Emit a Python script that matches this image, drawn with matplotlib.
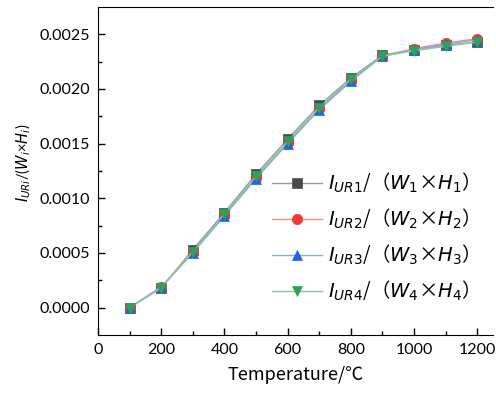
# Imports
import numpy as np
import matplotlib
matplotlib.use("Agg")
import matplotlib.pyplot as plt

# Chart data
temperature = [100, 200, 300, 400, 500, 600, 700, 800, 900, 1000, 1100, 1200]
ratio_1 = [0.0, 0.00018, 0.00053, 0.00087, 0.00122, 0.00154, 0.00185, 0.00210, 0.00231, 0.00236, 0.00240, 0.00243]
ratio_2 = [0.0, 0.00019, 0.00051, 0.00085, 0.00119, 0.00151, 0.00182, 0.00208, 0.00230, 0.00237, 0.00242, 0.00246]
ratio_3 = [0.0, 0.00019, 0.00050, 0.00084, 0.00118, 0.00150, 0.00181, 0.00207, 0.00230, 0.00236, 0.00241, 0.00245]
ratio_4 = [0.0, 0.00018, 0.00051, 0.00086, 0.00120, 0.00152, 0.00183, 0.00209, 0.00230, 0.00235, 0.00239, 0.00243]
labels = [r"$I_{UR1}$/（$W_1$×$H_1$）", r"$I_{UR2}$/（$W_2$×$H_2$）",
          r"$I_{UR3}$/（$W_3$×$H_3$）", r"$I_{UR4}$/（$W_4$×$H_4$）"]

# Styles
markers = ["s", "o", "^", "v"]
marker_colors = ["#4a4a4a", "#f03a3a", "#1f66dd", "#2aa35c"]
line_colors = ["#9a9a9a", "#ee8a8a", "#8aaed8", "#86c9a0"]

plt.rcParams['font.family'] = ['Lato', 'DejaVu Sans']
plt.rcParams['mathtext.fontset'] = 'dejavusans'
cjk = ['Noto Sans CJK SC', 'DejaVu Sans']

fig = plt.figure(figsize=(4.96, 3.96), dpi=100)
ax = fig.add_axes([98/496, 1-335/396, (493-98)/496, (335-7)/396])

series = [ratio_1, ratio_2, ratio_3, ratio_4]
for i in range(4):
    ax.plot(temperature, series[i], color=line_colors[i], lw=1.0,
            marker=markers[i], markersize=7.5, markerfacecolor=marker_colors[i],
            markeredgecolor=marker_colors[i], markeredgewidth=0.5,
            label=labels[i])

# Axes setup
ax.set_xlim(0, 1250)
ax.set_ylim(-0.00025, 0.00275)
ax.set_xticks([0, 200, 400, 600, 800, 1000, 1200])
ax.set_xticks(np.arange(100, 1250, 200), minor=True)
ax.set_yticks([0.0, 0.0005, 0.0010, 0.0015, 0.0020, 0.0025])
ax.set_yticks(np.arange(0.00025, 0.0027, 0.0005), minor=True)
ax.yaxis.set_major_formatter(matplotlib.ticker.FormatStrFormatter('%.4f'))
ax.tick_params(which='both', direction='in', labelsize=11.5, width=1, pad=6)
ax.tick_params(which='major', length=5)
ax.tick_params(which='minor', length=3)
ax.spines['right'].set_visible(False)

ax.set_xlabel("Temperature/℃", family=cjk, fontsize=13, labelpad=6)
ax.set_ylabel(r"$I_{URi}$/($W_i$×$H_i$)", fontsize=10.5, labelpad=2)
ax.yaxis.set_label_coords(-0.165, 0.524)

leg = ax.legend(loc='upper left', bbox_to_anchor=(0.395, 0.555), frameon=False,
                prop={'family': cjk, 'size': 14}, handlelength=2.6,
                labelspacing=0.6, handletextpad=0.3)

fig.savefig("out.png", dpi=100)
